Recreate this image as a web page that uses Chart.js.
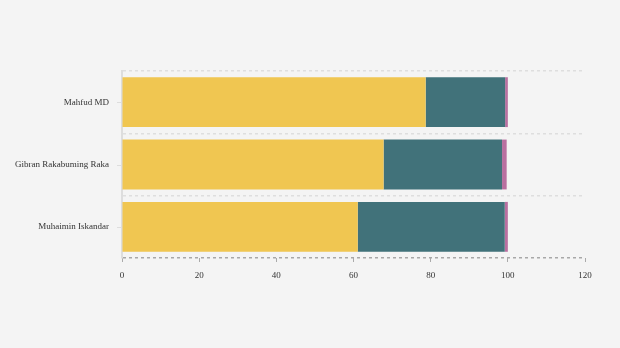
<!DOCTYPE html>
<html><head><meta charset="utf-8">
<script src="https://cdn.jsdelivr.net/npm/chart.js@4/dist/chart.umd.min.js"></script>
<style>html,body{margin:0;padding:0;background:#f4f4f4;}#wrap{width:620px;height:348px;}</style>
</head><body><div id="wrap"><canvas id="c" width="620" height="348"></canvas></div>
<script>
const categories = ["Mahfud MD", "Gibran Rakabuming Raka", "Muhaimin Iskandar"];
const seriesA = [78.7, 67.8, 61.1];
const seriesB = [20.6, 30.7, 38.1];
const seriesC = [0.7, 1.2, 0.8];
const xTicks = [0, 20, 40, 60, 80, 100, 120];

const FONT = "'Liberation Serif', 'Times New Roman', serif";

const yTickPlugin = {
  id: 'yTickMarks',
  afterDraw(chart) {
    const y = chart.scales.y, ctx = chart.ctx;
    ctx.save();
    ctx.strokeStyle = '#dddddd';
    ctx.lineWidth = 1;
    for (let i = 0; i < categories.length; i++) {
      const py = Math.round(y.getPixelForValue(i)) + 0.5;
      ctx.beginPath();
      ctx.moveTo(y.right - 5, py);
      ctx.lineTo(y.right, py);
      ctx.stroke();
    }
    ctx.restore();
  }
};

const isBottom = (c) => (c.index === undefined || c.index >= categories.length);

new Chart(document.getElementById('c'), {
  type: 'bar',
  data: {
    labels: categories,
    datasets: [
      { data: seriesA, backgroundColor: '#f0c651' },
      { data: seriesB, backgroundColor: '#41727a' },
      { data: seriesC, backgroundColor: '#b96fa0' }
    ]
  },
  options: {
    indexAxis: 'y',
    responsive: false,
    animation: false,
    devicePixelRatio: 1,
    layout: { padding: { top: 71, right: 35, bottom: 62, left: 0 } },
    plugins: { legend: { display: false }, tooltip: { enabled: false } },
    datasets: { bar: { categoryPercentage: 0.8, barPercentage: 1.0, borderWidth: 0 } },
    scales: {
      x: {
        stacked: true, min: 0, max: 120,
        afterBuildTicks(s) { s.ticks = xTicks.map(v => ({ value: v })); },
        afterFit(s) { s.height = 28; },
        grid: { drawOnChartArea: false, drawTicks: true, tickLength: 4, color: '#aaaaaa', tickColor: '#aaaaaa' },
        border: { display: false },
        ticks: { color: '#333333', font: { family: FONT, size: 9 }, padding: 8 }
      },
      y: {
        stacked: true,
        afterFit(s) { s.width = 122; },
        grid: {
          offset: true, drawTicks: false,
          color: (c) => (isBottom(c) ? '#a8a8a8' : '#dedede'),
          lineWidth: (c) => (isBottom(c) ? 1.5 : 1.5)
        },
        border: { display: true, color: '#dddddd', width: 2, dash: [3, 3] },
        ticks: { color: '#333333', font: { family: FONT, size: 9 }, padding: 13 }
      }
    }
  },
  plugins: [yTickPlugin]
});
</script>
</body></html>
